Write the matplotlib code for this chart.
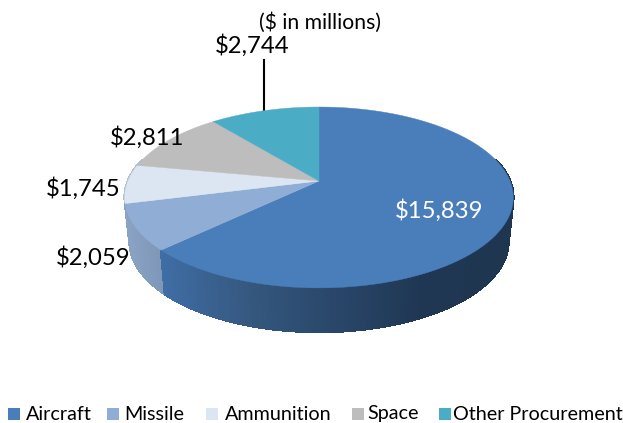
import numpy as np
import matplotlib.pyplot as plt
from matplotlib.colors import to_rgb

plt.rcParams['font.family'] = ['Lato', 'DejaVu Sans']

# data
categories = ['Aircraft', 'Missile', 'Ammunition', 'Space', 'Other Procurement']
values = [15839, 2059, 1745, 2811, 2744]
colors = ['#4A7EBB', '#90AED5', '#DCE6F2', '#BDBDBD', '#4BACC6']

# label spots, in picture pixels
label_xy = [(439, 211), (93, 258), (83, 189), (147, 138), (252, 46)]
legend_sq = [8, 107, 206, 352, 439]
legend_tx = [26, 124, 225, 367, 453]

# tilted disc: perspective mapping of the unit circle
CX, CY, A, B, D, DEPTH, SHRINK = 319, 181, 191, -54.5, 0.182, 44, 0.975


def top_xy(theta):
    u, v = np.sin(theta), np.cos(theta)
    w = 1 + D * v
    return CX + A * u / w, (B * v + CY) / w


def bottom_xy(theta):
    x, y = top_xy(theta)
    return CX + (x - CX) * SHRINK, y + DEPTH


def side_colour(i, x):
    # shading of the rim runs from left to right
    if i == 0:
        stops = [(160, '#3F6EA6'), (250, '#35587F'), (330, '#2A476B'), (420, '#1F3753'), (510, '#1F3650')]
    elif i == 1:
        stops = [(128, '#8AA3C4'), (165, '#7D96B6')]
    else:
        stops = [(120, '#B5C0CE'), (135, '#B5C0CE')]
    xs = [s[0] for s in stops]
    rgb = np.array([to_rgb(s[1]) for s in stops])
    return [np.interp(x, xs, rgb[:, k]) for k in range(3)]


fig = plt.figure(figsize=(6.23, 4.23), dpi=100)
ax = fig.add_axes([0, 0, 1, 1])
ax.set_xlim(0, 623)
ax.set_ylim(423, 0)
ax.axis('off')

edges = np.concatenate([[0], np.cumsum(values)]) / sum(values) * 2 * np.pi

# rim first, back to front
quads = []
for i in range(len(values)):
    n = max(int((edges[i + 1] - edges[i]) * 90), 2)
    t = np.linspace(edges[i], edges[i + 1], n + 1)
    for a, b in zip(t[:-1], t[1:]):
        if np.cos((a + b) / 2) < 0.25:
            quads.append((np.cos((a + b) / 2), i, a, b))
quads.sort(key=lambda q: -q[0])
for _, i, a, b in quads:
    xa, ya = top_xy(a)
    xb, yb = top_xy(b)
    xc, yc = bottom_xy(b)
    xd, yd = bottom_xy(a)
    col = side_colour(i, (xa + xb) / 2)
    ax.fill([xa, xb, xc, xd], [ya, yb, yc, yd], color=col, lw=1.2, antialiased=False, zorder=2)

# top faces
for i in range(len(values)):
    t = np.linspace(edges[i], edges[i + 1], 200)
    x, y = top_xy(t)
    ax.fill(np.r_[CX, x], np.r_[CY, y], color=colors[i], lw=0.3, zorder=3)

# value labels
for i, v in enumerate(values):
    ax.text(label_xy[i][0], label_xy[i][1], f'${v:,}', fontsize=17.2, ha='center', va='center',
            color='white' if i == 0 else 'black', zorder=5)

ax.text(320, 23, '($ in millions)', fontsize=15.2, ha='center', va='center', color='black', zorder=5)
ax.plot([264, 264], [60, 110], color='black', lw=1.5, zorder=2.5)

# legend
for i, name in enumerate(categories):
    ax.fill([legend_sq[i], legend_sq[i] + 12, legend_sq[i] + 12, legend_sq[i]],
            [408, 408, 420, 420], color=colors[i], lw=0)
    ax.text(legend_tx[i], 414, name, fontsize=14.2, ha='left', va='center', color='black')

fig.savefig('out.png', dpi=100)
